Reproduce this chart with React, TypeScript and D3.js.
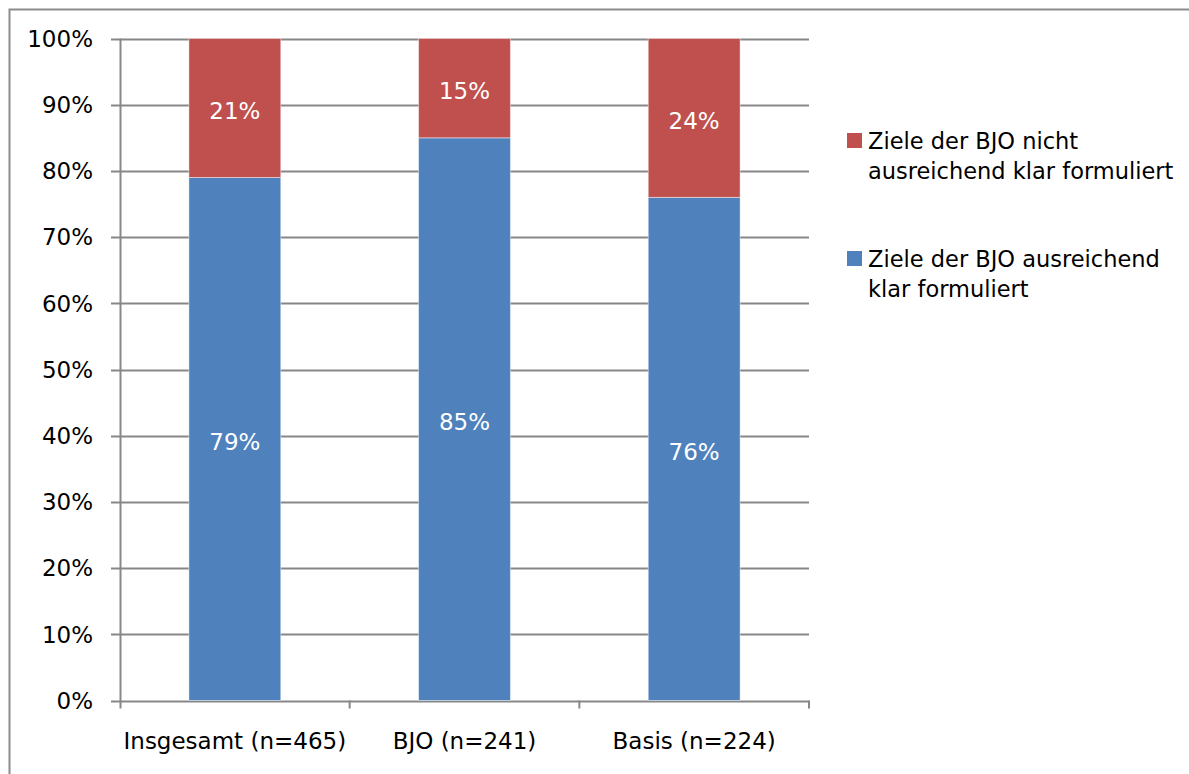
import React, { useEffect, useRef } from 'react';
import * as d3 from 'd3';

const categories = ['Insgesamt (n=465)', 'BJO (n=241)', 'Basis (n=224)'];
const klarValues = [79, 85, 76];
const nichtKlarValues = [21, 15, 24];
const seriesNames = [
  ['Ziele der BJO nicht', 'ausreichend klar formuliert'],
  ['Ziele der BJO ausreichend', 'klar formuliert'],
];
const yTicks = [0, 10, 20, 30, 40, 50, 60, 70, 80, 90, 100];

const BLUE = '#4f81bd';
const RED = '#c0504d';
const GRID = '#878787';
const FONT = '"DejaVu Sans", Verdana, sans-serif';

export default function App() {
  const ref = useRef<SVGSVGElement>(null);

  useEffect(() => {
    if (!ref.current) return;
    const svg = d3.select(ref.current);
    svg.selectAll('*').remove();

    const width = 1189;
    const height = 774;

    // outer chart frame (only left and top edges visible in the crop)
    svg
      .append('path')
      .attr('d', `M9.5,${height} L9.5,9.5 L${width},9.5`)
      .attr('fill', 'none')
      .attr('stroke', '#8c8c8c')
      .attr('stroke-width', 2);

    const left = 120;
    const right = 809;
    const top = 38.5;
    const bottom = 700.5;

    const x = d3.scaleBand<string>().domain(categories).range([left, right]).paddingInner(0.6).paddingOuter(0.3);
    const y = d3.scaleLinear().domain([0, 100]).range([bottom, top]);

    // gridlines
    svg
      .append('g')
      .selectAll('line')
      .data(yTicks)
      .enter()
      .append('line')
      .attr('x1', left - 9)
      .attr('x2', right)
      .attr('y1', (d) => Math.round(y(d)) + 0.5)
      .attr('y2', (d) => Math.round(y(d)) + 0.5)
      .attr('stroke', GRID)
      .attr('stroke-width', 2);

    // y axis line
    svg
      .append('line')
      .attr('x1', left + 0.5)
      .attr('x2', left + 0.5)
      .attr('y1', top)
      .attr('y2', bottom + 8)
      .attr('stroke', GRID)
      .attr('stroke-width', 2);

    // category tick marks between groups
    const bounds = [1, 2, 3].map((i) => left + ((right - left) / 3) * i);
    svg
      .append('g')
      .selectAll('line')
      .data(bounds)
      .enter()
      .append('line')
      .attr('x1', (d) => d)
      .attr('x2', (d) => d)
      .attr('y1', bottom)
      .attr('y2', bottom + 8)
      .attr('stroke', GRID)
      .attr('stroke-width', 2);

    // y tick labels
    svg
      .append('g')
      .selectAll('text')
      .data(yTicks)
      .enter()
      .append('text')
      .attr('x', 93)
      .attr('y', (d) => y(d))
      .attr('dy', '0.36em')
      .attr('text-anchor', 'end')
      .style('font-family', FONT)
      .style('font-size', '23px')
      .attr('fill', '#000')
      .text((d) => `${d}%`);

    // stacked bars
    const rows = categories.map((c, i) => ({ cat: c, klar: klarValues[i], nicht: nichtKlarValues[i] }));
    const stack = d3.stack<any>().keys(['klar', 'nicht'])(rows);
    const colors = [BLUE, RED];

    stack.forEach((layer, li) => {
      const g = svg.append('g');
      g.selectAll('rect')
        .data(layer)
        .enter()
        .append('rect')
        .attr('x', (d) => x(d.data.cat) as number)
        .attr('width', x.bandwidth())
        .attr('y', (d) => y(d[1]))
        .attr('height', (d) => y(d[0]) - y(d[1]))
        .attr('fill', colors[li])
        .attr('stroke', 'rgba(255,255,255,0.45)')
        .attr('stroke-width', 1);
      g.selectAll('text')
        .data(layer)
        .enter()
        .append('text')
        .attr('x', (d) => (x(d.data.cat) as number) + x.bandwidth() / 2)
        .attr('y', (d) => y((d[0] + d[1]) / 2) + 3)
        .attr('dy', '0.36em')
        .attr('text-anchor', 'middle')
        .style('font-family', FONT)
        .style('font-size', '23px')
        .attr('fill', '#fff')
        .text((d) => `${d[1] - d[0]}%`);
    });

    // category labels
    svg
      .append('g')
      .selectAll('text')
      .data(categories)
      .enter()
      .append('text')
      .attr('x', (d) => (x(d) as number) + x.bandwidth() / 2)
      .attr('y', 741)
      .attr('dy', '0.36em')
      .attr('text-anchor', 'middle')
      .style('font-family', FONT)
      .style('font-size', '23px')
      .attr('fill', '#000')
      .text((d) => d);

    // legend
    const legend = [
      { color: RED, lines: seriesNames[0], y: 133 },
      { color: BLUE, lines: seriesNames[1], y: 251 },
    ];
    legend.forEach((l) => {
      svg
        .append('rect')
        .attr('x', 847)
        .attr('y', l.y)
        .attr('width', 15)
        .attr('height', 15)
        .attr('fill', l.color);
      l.lines.forEach((line, k) => {
        svg
          .append('text')
          .attr('x', 868)
          .attr('y', l.y + 8 + k * 30)
          .attr('dy', '0.36em')
          .style('font-family', FONT)
          .style('font-size', '22.5px')
          .attr('fill', '#000')
          .text(line);
      });
    });
  }, []);

  return (
    <div style={{ position: 'absolute', left: 0, top: 0, width: 1189, height: 774, background: '#fff' }}>
      <svg ref={ref} width={1189} height={774} />
    </div>
  );
}
